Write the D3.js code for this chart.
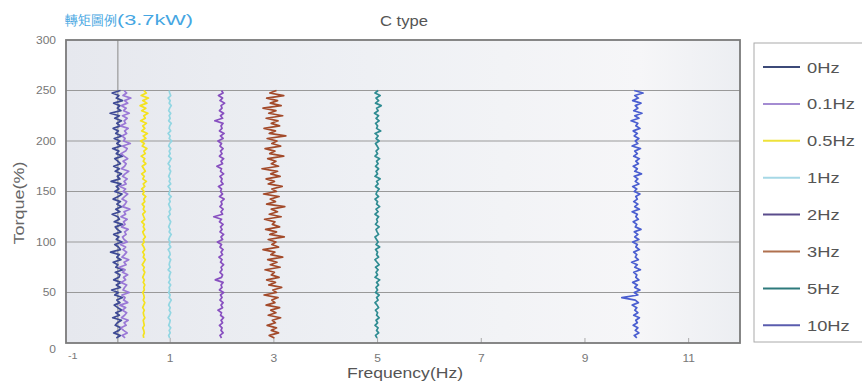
<!DOCTYPE html>
<html>
<head>
<meta charset="utf-8">
<script src="https://cdn.jsdelivr.net/npm/d3@7"></script>
<style>
  body { margin: 0; background: #fff; }
  text { font-family: "Liberation Sans", Arial, sans-serif; }
</style>
</head>
<body>
<div id="chart"></div>
<script>
// torque levels (%) where each trace is sampled
var torque = [5,7.5,10,12.5,15,17.5,20,22.5,25,27.5,
  30,32.5,35,37.5,40,42.5,45,47.5,50,52.5,
  55,57.5,60,62.5,65,67.5,70,72.5,75,77.5,
  80,82.5,85,87.5,90,92.5,95,97.5,100,102.5,
  105,107.5,110,112.5,115,117.5,120,122.5,125,127.5,
  130,132.5,135,137.5,140,142.5,145,147.5,150,152.5,
  155,157.5,160,162.5,165,167.5,170,172.5,175,177.5,
  180,182.5,185,187.5,190,192.5,195,197.5,200,202.5,
  205,207.5,210,212.5,215,217.5,220,222.5,225,227.5,
  230,232.5,235,237.5,240,242.5,245,247.5,250];

// measured frequency (Hz) at each torque level
var f0 = [-0.03,0.05,-0.08,0.02,0.06,-0.05,-0.01,0.07,-0.10,0.03,
  -0.04,0.08,0.00,-0.07,0.04,-0.02,0.09,-0.06,0.01,-0.12,
  0.05,-0.03,0.06,-0.08,0.02,0.04,-0.05,0.10,-0.04,0.00,
  -0.09,0.06,-0.02,0.03,-0.14,0.05,0.01,-0.06,0.08,-0.03,
  0.02,-0.08,0.06,-0.01,-0.05,0.09,-0.07,0.03,0.00,-0.11,
  0.04,-0.04,0.07,-0.02,0.05,-0.09,0.01,0.08,-0.06,0.02,
  -0.03,0.06,-0.13,0.04,-0.01,0.07,-0.05,0.03,-0.08,0.05,
  0.00,-0.06,0.09,-0.03,0.02,-0.10,0.06,-0.02,0.04,-0.07,
  0.08,-0.04,0.01,-0.09,0.05,-0.02,0.07,-0.06,0.03,-0.15,
  0.06,-0.01,0.04,-0.08,0.09,-0.03,0.02,-0.11,0.05];
var f01 = [0.14,0.08,0.18,0.11,0.06,0.16,0.12,0.20,0.07,0.13,
  0.17,0.09,0.15,0.04,0.19,0.11,0.14,0.08,0.22,0.10,
  0.13,0.17,0.06,0.15,0.11,0.19,0.09,0.14,0.03,0.16,
  0.12,0.21,0.08,0.13,0.17,0.10,0.15,0.05,0.18,0.12,
  0.09,0.16,0.13,0.20,0.07,0.14,0.11,0.18,0.06,0.15,
  0.12,0.23,0.09,0.14,0.17,0.08,0.13,0.19,0.10,0.15,
  0.04,0.16,0.12,0.18,0.09,0.14,0.21,0.07,0.13,0.16,
  0.10,0.19,0.12,0.06,0.15,0.18,0.09,0.24,0.11,0.14,
  0.08,0.17,0.13,0.20,0.05,0.15,0.12,0.18,0.09,0.22,
  0.11,0.16,0.07,0.19,0.13,0.25,0.10,0.17,0.12];
var f05 = [0.50,0.49,0.51,0.50,0.48,0.51,0.50,0.49,0.52,0.50,
  0.49,0.51,0.48,0.50,0.52,0.49,0.51,0.50,0.48,0.51,
  0.50,0.52,0.49,0.51,0.48,0.50,0.52,0.49,0.51,0.47,
  0.50,0.53,0.49,0.51,0.48,0.52,0.50,0.47,0.51,0.49,
  0.53,0.50,0.48,0.52,0.49,0.51,0.46,0.52,0.50,0.48,
  0.53,0.49,0.51,0.47,0.52,0.50,0.54,0.48,0.51,0.46,
  0.52,0.49,0.55,0.48,0.51,0.46,0.53,0.50,0.47,0.54,
  0.49,0.52,0.45,0.53,0.50,0.56,0.47,0.51,0.44,0.54,
  0.49,0.57,0.46,0.52,0.48,0.55,0.44,0.53,0.50,0.58,
  0.46,0.54,0.43,0.56,0.48,0.59,0.45,0.55,0.50];
var f1 = [1.00,0.98,1.01,0.99,1.02,0.98,1.00,1.01,0.97,1.00,
  1.02,0.99,1.01,0.98,1.00,1.03,0.99,1.01,0.98,1.00,
  0.99,1.02,0.98,1.01,0.99,1.00,1.02,0.97,1.01,0.99,
  1.00,1.02,0.98,1.01,1.00,0.97,1.02,0.99,1.01,0.98,
  1.00,1.03,0.99,1.01,0.98,1.00,1.02,0.99,0.97,1.01,
  0.99,1.02,1.00,0.98,1.01,0.99,1.03,0.98,1.00,1.01,
  0.97,1.02,0.99,1.01,0.98,1.00,1.02,0.99,1.01,0.97,
  1.00,1.03,0.98,1.01,0.99,1.02,0.98,1.00,1.04,0.99,
  1.01,0.97,1.02,0.99,1.00,1.03,0.98,1.01,0.99,1.02,
  0.98,1.00,1.03,0.99,1.01,0.97,1.02,1.00,0.99];
var f2 = [2.00,1.97,2.03,1.99,2.01,1.96,2.02,1.99,2.04,1.98,
  2.00,1.93,2.02,1.99,2.03,1.97,2.01,1.98,2.04,1.96,
  2.01,1.99,2.03,1.88,2.00,2.02,1.97,2.01,1.99,2.04,
  1.98,2.01,1.95,2.02,1.99,2.03,1.97,2.00,1.92,2.02,
  1.99,2.04,1.97,2.01,1.98,2.03,1.96,2.00,1.85,2.02,
  1.99,2.03,1.97,2.01,1.99,2.05,1.96,2.02,1.98,2.00,
  1.94,2.03,1.99,2.01,1.97,2.04,1.98,2.00,1.91,2.02,
  1.99,2.04,1.96,2.01,1.98,2.03,1.97,2.00,1.93,2.03,
  1.98,2.05,1.96,2.01,1.99,2.03,1.87,2.02,1.98,2.04,
  1.96,2.01,1.99,2.06,1.97,2.02,1.94,2.03,2.00];
var f3 = [3.02,2.92,3.10,2.96,3.06,2.88,3.04,2.98,3.14,2.90,
  3.05,2.95,3.12,2.86,3.03,2.97,3.09,2.82,3.06,2.99,
  3.16,2.91,3.04,2.87,3.11,2.96,3.02,2.84,3.13,2.94,
  3.07,2.89,3.18,2.95,3.03,2.80,3.10,2.97,3.05,2.90,
  3.21,2.93,3.06,2.85,3.12,2.98,3.03,2.83,3.15,2.92,
  3.08,2.96,3.22,2.87,3.04,2.94,3.11,2.81,3.06,2.97,
  3.17,2.90,3.02,2.86,3.13,2.95,3.08,2.78,3.10,2.96,
  3.05,2.89,3.20,2.93,3.03,2.84,3.14,2.97,3.07,2.88,
  3.24,2.92,3.04,2.82,3.12,2.96,3.09,2.86,3.18,2.91,
  3.05,2.80,3.15,2.94,3.08,2.87,3.20,2.93,3.06];
var f5 = [5.00,4.97,5.03,4.99,5.02,4.96,5.01,4.98,5.04,4.99,
  5.01,4.97,5.03,5.00,4.96,5.02,4.99,5.04,4.97,5.01,
  4.98,5.03,4.99,5.05,4.96,5.01,4.98,5.02,4.97,5.04,
  5.00,4.96,5.03,4.99,5.01,4.97,5.05,4.98,5.02,4.99,
  4.96,5.03,5.00,4.98,5.04,4.97,5.01,4.99,5.03,4.96,
  5.02,4.98,5.05,4.99,5.01,4.96,5.03,4.98,5.00,5.04,
  4.97,5.02,4.99,5.06,4.96,5.01,4.98,5.03,4.97,5.02,
  4.99,5.05,4.96,5.01,4.98,5.03,5.00,4.97,5.04,4.98,
  5.02,4.96,5.07,4.99,5.01,4.97,5.04,4.98,5.03,4.95,
  5.02,4.99,5.08,4.97,5.03,4.98,5.06,4.96,5.02];
var f10 = [10.01,9.96,10.05,9.98,10.03,9.94,10.02,9.99,10.06,9.95,
  10.03,9.97,10.01,9.92,10.04,9.98,9.72,10.03,9.96,10.07,
  9.97,10.02,9.93,10.05,9.99,10.01,9.95,10.08,9.97,10.02,
  9.91,10.04,9.98,10.01,9.95,10.06,9.99,10.02,9.93,10.05,
  9.97,10.03,9.96,10.09,9.98,10.01,9.94,10.04,9.99,10.02,
  9.92,10.06,9.97,10.03,9.95,10.02,9.99,10.07,9.96,10.01,
  9.93,10.05,9.98,10.03,9.96,10.10,9.97,10.02,9.94,10.04,
  9.99,10.06,9.95,10.02,9.97,10.08,9.92,10.03,9.98,10.05,
  9.96,10.02,9.94,10.07,9.99,10.03,9.90,10.05,9.97,10.11,
  9.95,10.03,9.98,10.09,9.93,10.04,9.97,10.13,9.96];

var seriesNames = ['0Hz', '0.1Hz', '0.5Hz', '1Hz', '2Hz', '3Hz', '5Hz', '10Hz'];
var seriesFreqs = [f0, f01, f05, f1, f2, f3, f5, f10];
var traceColors = ['#3e4a95', '#9a78d6', '#f4e21e', '#92d6e2', '#8850c0', '#a34a2a', '#2f8c92', '#4a5ed0'];
var legendColors = ['#3c4a78', '#a48cd2', '#eee23a', '#a6d8e6', '#5a4c8c', '#b0714f', '#2e7a7c', '#5a5cae'];

var xTicks = [1, 3, 5, 7, 9, 11];
var yTicks = [0, 50, 100, 150, 200, 250, 300];

var width = 862, height = 383;
var plotLeft = 66, plotRight = 740, plotTop = 40, plotBottom = 343;

// stretch text horizontally (the original uses a wide face)
function widen(sel, k) {
  sel.each(function () {
    var w = this.getComputedTextLength();
    d3.select(this).attr('textLength', w * k).attr('lengthAdjust', 'spacingAndGlyphs');
  });
}
function fitTo(sel, w) {
  sel.attr('textLength', w).attr('lengthAdjust', 'spacingAndGlyphs');
}

var svg = d3.select('#chart').append('svg')
  .attr('width', width)
  .attr('height', height);

var xScale = d3.scaleLinear().domain([-1, 12]).range([plotLeft, plotRight]);
var yScale = d3.scaleLinear().domain([0, 300]).range([plotBottom, plotTop]);

/* background */
var grad = svg.append('defs').append('linearGradient')
  .attr('id', 'bg').attr('x1', '0%').attr('x2', '100%');
grad.append('stop').attr('offset', '0%').attr('stop-color', '#e6e8ee');
grad.append('stop').attr('offset', '45%').attr('stop-color', '#eef0f4');
grad.append('stop').attr('offset', '85%').attr('stop-color', '#f6f6f8');
grad.append('stop').attr('offset', '100%').attr('stop-color', '#eceef2');

svg.append('rect')
  .attr('x', plotLeft).attr('y', plotTop)
  .attr('width', plotRight - plotLeft).attr('height', plotBottom - plotTop)
  .attr('fill', 'url(#bg)');

/* grid */
svg.append('g').selectAll('line')
  .data(yTicks.filter(d => d > 0 && d < 300)).enter()
  .append('line')
  .attr('x1', plotLeft).attr('x2', plotRight)
  .attr('y1', d => yScale(d)).attr('y2', d => yScale(d))
  .attr('stroke', '#999').attr('stroke-width', 1.2);

svg.append('line')
  .attr('x1', xScale(0)).attr('x2', xScale(0))
  .attr('y1', plotTop).attr('y2', plotBottom)
  .attr('stroke', '#999').attr('stroke-width', 1.2);

/* axes */
var xAxis = d3.axisBottom(xScale).tickValues(xTicks).tickSizeInner(-5).tickSizeOuter(0).tickPadding(12);
var yAxis = d3.axisLeft(yScale).tickValues(yTicks).tickSize(0).tickPadding(10);

var gx = svg.append('g')
  .attr('transform', `translate(0, ${plotBottom})`)
  .call(xAxis);
gx.select('.domain').remove();
gx.selectAll('line').attr('stroke', '#aaa');
gx.selectAll('text').attr('fill', '#777').attr('font-size', 10).call(widen, 1.2);

var gy = svg.append('g')
  .attr('transform', `translate(${plotLeft}, 0)`)
  .call(yAxis);
gy.select('.domain').remove();
gy.selectAll('text').attr('fill', '#777').attr('font-size', 10).call(widen, 1.2);
gy.selectAll('.tick').filter(d => d === 0).select('text').attr('dy', '0.9em');

svg.append('text')
  .attr('x', xScale(-1) + 2).attr('y', 359)
  .attr('fill', '#777').attr('font-size', 9)
  .text('-1')
  .call(widen, 1.2);

/* frame */
svg.append('rect')
  .attr('x', plotLeft).attr('y', plotTop)
  .attr('width', plotRight - plotLeft).attr('height', plotBottom - plotTop)
  .attr('fill', 'none').attr('stroke', '#7a7a7a').attr('stroke-width', 1.8);

/* traces */
var line = d3.line()
  .x(d => xScale(d[0]))
  .y(d => yScale(d[1]));

svg.append('g').selectAll('path')
  .data(seriesFreqs).enter()
  .append('path')
  .attr('d', d => line(d.map((f, i) => [f, torque[i]])))
  .attr('fill', 'none')
  .attr('stroke', (d, i) => traceColors[i])
  .attr('stroke-width', 1.7)
  .attr('stroke-linejoin', 'round');

/* titles */
svg.append('text')
  .attr('x', 65).attr('y', 25)
  .attr('fill', '#45a6e2').attr('font-size', 14)
  .text('轉矩圖例')
  .call(fitTo, 52);

svg.append('text')
  .attr('x', 117).attr('y', 25)
  .attr('fill', '#45a6e2').attr('font-size', 14.5)
  .text('(3.7kW)')
  .call(fitTo, 76);

svg.append('text')
  .attr('x', 404).attr('y', 26)
  .attr('text-anchor', 'middle')
  .attr('fill', '#555').attr('font-size', 14.5)
  .text('C type')
  .call(fitTo, 48);

svg.append('text')
  .attr('x', 405).attr('y', 378)
  .attr('text-anchor', 'middle')
  .attr('fill', '#555').attr('font-size', 15.5)
  .text('Frequency(Hz)')
  .call(fitTo, 116);

svg.append('text')
  .attr('transform', 'translate(24, 203) rotate(-90)')
  .attr('text-anchor', 'middle')
  .attr('fill', '#666').attr('font-size', 14.5)
  .text('Torque(%)')
  .call(fitTo, 83);

/* legend */
svg.append('rect')
  .attr('x', 754).attr('y', 43)
  .attr('width', 120).attr('height', 299)
  .attr('fill', '#fff').attr('stroke', '#aaa').attr('stroke-width', 1);

var legend = svg.append('g').selectAll('g')
  .data(seriesNames).enter()
  .append('g')
  .attr('transform', (d, i) => `translate(763, ${67 + i * 36.9})`);

legend.append('line')
  .attr('x1', 0).attr('x2', 37)
  .attr('stroke', (d, i) => legendColors[i])
  .attr('stroke-width', 2);

legend.append('text')
  .attr('x', 44).attr('dy', '0.36em')
  .attr('fill', '#555').attr('font-size', 15.5)
  .text(d => d)
  .call(widen, 1.18);
</script>
</body>
</html>
